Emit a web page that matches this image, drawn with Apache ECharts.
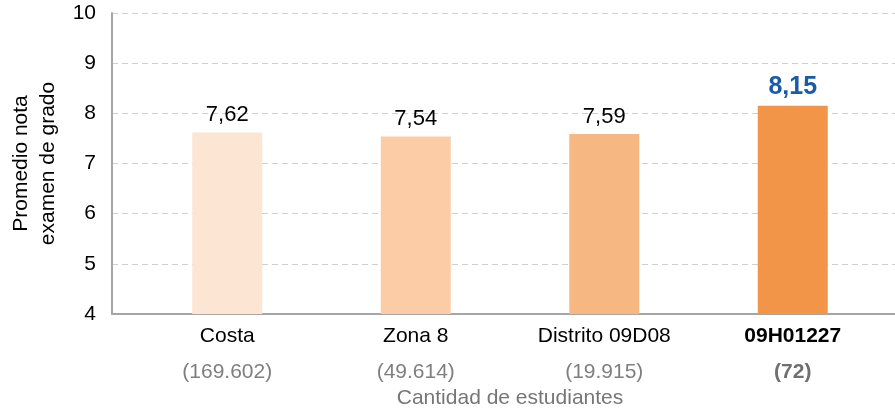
<!DOCTYPE html>
<html>
<head>
<meta charset="utf-8">
<script src="https://cdn.jsdelivr.net/npm/echarts@6/dist/echarts.min.js"></script>
<style>
  html, body { margin: 0; padding: 0; background: #fff; }
  #chart { width: 895px; height: 409px; }
</style>
</head>
<body>
<div id="chart"></div>
<script>
// ---- data ----
const categories = ['Costa', 'Zona 8', 'Distrito 09D08', '09H01227'];
const studentCounts = ['169.602', '49.614', '19.915', '72'];
const scores = [7.62, 7.54, 7.59, 8.15];
const yTicks = [4, 5, 6, 7, 8, 9, 10];

// ---- styles ----
const barColors = ['#FDE5D3', '#FBCCA6', '#F7B783', '#F29548'];
const FONT = "'Liberation Sans', Arial, sans-serif";

const chart = echarts.init(document.getElementById('chart'));
const fmt = v => v.toFixed(2).replace('.', ',');
const lastIdx = categories.length - 1;

chart.setOption({
  animation: false,
  textStyle: { fontFamily: FONT },
  grid: [
    { left: 112, right: 0, top: 13, bottom: 95, containLabel: false, outerBoundsMode: 'none' },
    { left: 133, right: 8, top: 13, bottom: 95, containLabel: false, outerBoundsMode: 'none' }
  ],
  xAxis: [
    {
      gridIndex: 0, type: 'value', min: 0, max: 1,
      axisLine: { show: true, onZero: false, lineStyle: { color: '#a6a6a6', width: 2 } },
      axisTick: { show: false }, axisLabel: { show: false }, splitLine: { show: false }
    },
    {
      gridIndex: 1, type: 'category', data: categories,
      axisLine: { show: false }, axisTick: { show: false },
      axisLabel: {
        interval: 0, margin: 7,
        formatter: (v, i) => i === lastIdx
          ? '{nb|' + v + '}\n{cb|(' + studentCounts[i] + ')}'
          : '{n|' + v + '}\n{c|(' + studentCounts[i] + ')}',
        rich: {
          n: { fontSize: 21, color: '#000', lineHeight: 30, fontFamily: FONT },
          nb: { fontSize: 21, color: '#000', fontWeight: 'bold', lineHeight: 30, fontFamily: FONT },
          c: { fontSize: 21, color: '#7f7f7f', lineHeight: 43, fontFamily: FONT },
          cb: { fontSize: 21, color: '#6f6f6f', fontWeight: 'bold', lineHeight: 43, fontFamily: FONT }
        }
      },
      name: 'Cantidad de estudiantes', nameLocation: 'middle', nameGap: 73,
      nameTextStyle: { fontSize: 21, color: '#767676', fontFamily: FONT }
    }
  ],
  yAxis: [
    {
      gridIndex: 0, type: 'value', min: yTicks[0], max: yTicks[yTicks.length - 1], interval: 1,
      axisLine: { show: true, lineStyle: { color: '#a6a6a6', width: 2 } },
      axisTick: { show: false },
      axisLabel: { fontSize: 21, color: '#000', margin: 16, fontFamily: FONT },
      splitLine: { show: true, lineStyle: { color: '#cfcfcf', type: [6, 4], width: 1 } },
      name: 'Promedio nota\nexamen de grado', nameLocation: 'middle', nameGap: 49,
      nameTextStyle: { fontSize: 21, color: '#000', lineHeight: 27, fontFamily: FONT }
    },
    {
      gridIndex: 1, type: 'value', min: yTicks[0], max: yTicks[yTicks.length - 1], interval: 1,
      show: false
    }
  ],
  series: [{
    type: 'bar',
    xAxisIndex: 1, yAxisIndex: 1,
    barWidth: 70,
    data: scores.map((v, i) => ({
      value: v,
      itemStyle: { color: barColors[i] },
      label: i === lastIdx ? { color: '#1A5BA8', fontWeight: 'bold', fontSize: 25 } : {}
    })),
    label: {
      show: true, position: 'top', distance: 6,
      fontSize: 22, color: '#000', fontFamily: FONT,
      formatter: p => fmt(p.value)
    }
  }]
});
</script>
</body>
</html>
